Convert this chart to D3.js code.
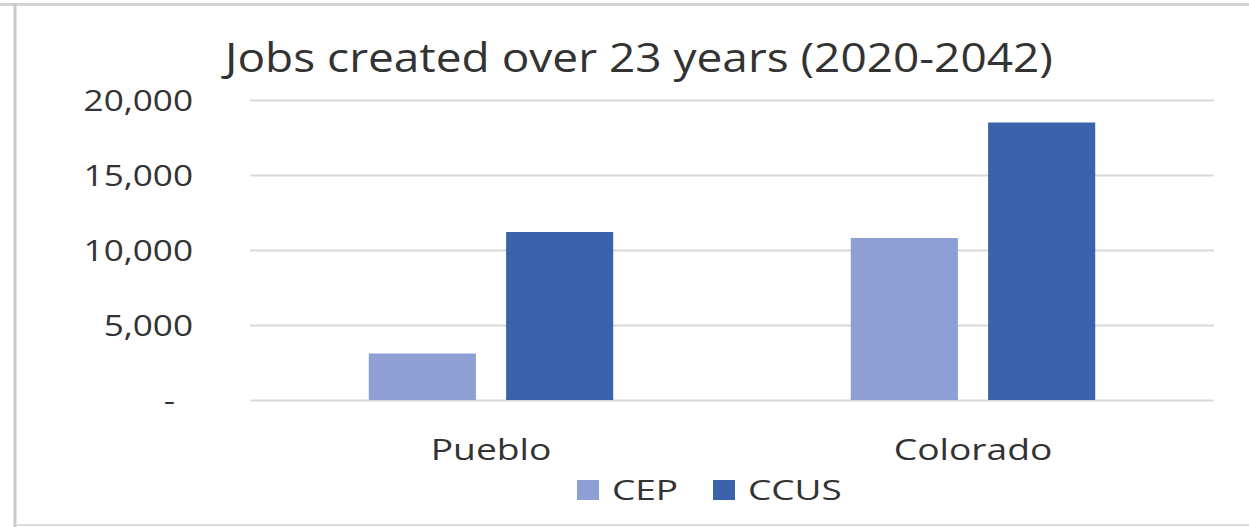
<!DOCTYPE html>
<html>
<head>
<meta charset="utf-8">
<script src="https://cdn.jsdelivr.net/npm/d3@7"></script>
<style>
  body { margin: 0; background: #fff; }
  text { font-family: "Open Sans", "Noto Sans", sans-serif; fill: #333; }
</style>
</head>
<body>
<svg id="chart" width="1249" height="527"></svg>
<script>
const categories = ["Pueblo", "Colorado"];
const seriesNames = ["CEP", "CCUS"];
const cepValues = [3100, 10800];
const ccusValues = [11200, 18500];
const yTicks = [0, 5000, 10000, 15000, 20000];
const title = "Jobs created over 23 years (2020-2042)";
const colors = { CEP: "#8d9fd3", CCUS: "#3b62ab" };

const data = categories.map((c, i) => ({ category: c, CEP: cepValues[i], CCUS: ccusValues[i] }));

const svg = d3.select("#chart");
const W = 1249, H = 527;
const plot = { left: 250, right: 1214, top: 100, bottom: 400 };

// widen text horizontally (reference font is wide)
function stretch(sel, factor) {
  sel.each(function () {
    const len = this.getComputedTextLength();
    d3.select(this).attr("textLength", len * factor).attr("lengthAdjust", "spacingAndGlyphs");
  });
}

// frame
svg.append("line").attr("x1", 0).attr("x2", W).attr("y1", 4.5).attr("y2", 4.5)
  .attr("stroke", "#d4d4d4").attr("stroke-width", 3);
svg.append("line").attr("x1", 15).attr("x2", 15).attr("y1", 4).attr("y2", 527)
  .attr("stroke", "#c8c8c8").attr("stroke-width", 3);
svg.append("line").attr("x1", 15).attr("x2", W).attr("y1", 525).attr("y2", 525)
  .attr("stroke", "#dcdcdc").attr("stroke-width", 2);

const y = d3.scaleLinear().domain([0, 20000]).range([plot.bottom, plot.top]);
const x0 = d3.scaleBand().domain(categories).range([plot.left, plot.right]).padding(0);
const x1 = d3.scaleBand().domain(seriesNames).range([0, x0.bandwidth()])
  .paddingInner(0.22).paddingOuter(0.865);

// gridlines
const grid = svg.append("g").attr("transform", `translate(${plot.left},0)`)
  .call(d3.axisLeft(y).tickValues(yTicks).tickSize(-(plot.right - plot.left)).tickFormat(""));
grid.select(".domain").remove();
grid.selectAll(".tick line").attr("stroke", "#d9d9d9").attr("stroke-width", 2);

// y labels
const yAxis = svg.append("g").attr("transform", `translate(${plot.left},0)`)
  .call(d3.axisLeft(y).tickValues(yTicks).tickSize(0).tickPadding(57)
    .tickFormat(d => d === 0 ? "-" : d3.format(",")(d)));
yAxis.select(".domain").remove();
yAxis.selectAll("text").attr("font-size", 30).attr("fill", "#333")
  .attr("font-family", "'Open Sans', sans-serif").attr("dy", "0.36em")
  .attr("dx", d => d === 0 ? -18 : 0);
stretch(yAxis.selectAll("text"), 1.17);

// bars
const groups = svg.append("g").selectAll("g").data(data).join("g")
  .attr("transform", d => `translate(${x0(d.category)},0)`);
groups.selectAll("rect").data(d => seriesNames.map(s => ({ s, v: d[s] }))).join("rect")
  .attr("x", d => x1(d.s)).attr("width", x1.bandwidth())
  .attr("y", d => y(d.v)).attr("height", d => y(0) - y(d.v))
  .attr("fill", d => colors[d.s]);

// x labels
const xAxis = svg.append("g").attr("transform", `translate(0,${plot.bottom})`)
  .call(d3.axisBottom(x0).tickSize(0));
xAxis.select(".domain").remove();
xAxis.selectAll("text").attr("font-size", 30).attr("fill", "#333")
  .attr("font-family", "'Open Sans', sans-serif")
  .attr("y", 60).attr("dy", 0);
stretch(xAxis.selectAll("text"), 1.24);

// title
const t = svg.append("text").attr("x", 639).attr("y", 72).attr("text-anchor", "middle")
  .attr("font-size", 40).text(title);
stretch(t, 1.15);

// legend
const legendItems = [{ name: "CEP", x: 577 }, { name: "CCUS", x: 713 }];
const lg = svg.append("g").selectAll("g").data(legendItems).join("g")
  .attr("transform", d => `translate(${d.x},480)`);
lg.append("rect").attr("width", 22).attr("height", 20).attr("fill", d => colors[d.name]);
const lt = lg.append("text").attr("x", 35).attr("y", 20).attr("font-size", 28).text(d => d.name);
stretch(lt, 1.32);
</script>
</body>
</html>
